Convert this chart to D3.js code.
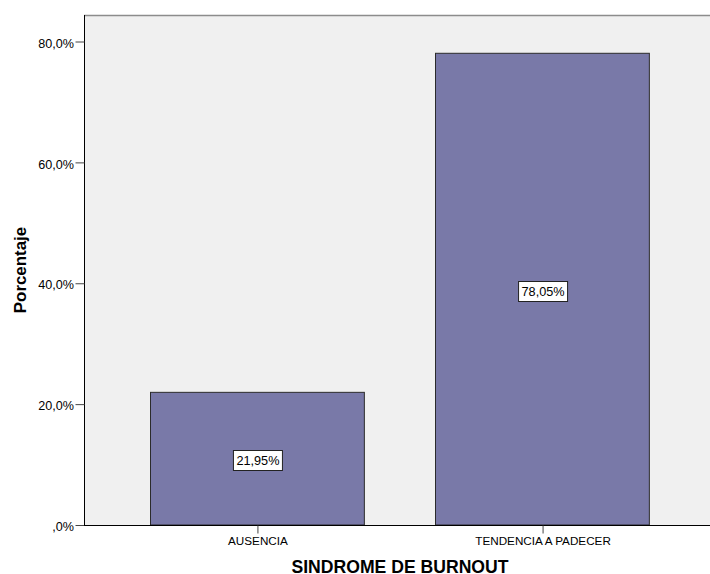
<!DOCTYPE html>
<html>
<head>
<meta charset="utf-8">
<script src="https://cdn.jsdelivr.net/npm/d3@7"></script>
<style>
  body { margin: 0; background: #fff; }
  svg { display: block; font-family: "Liberation Sans", Arial, sans-serif; }
</style>
</head>
<body>
<svg id="chart" width="710" height="574"></svg>
<script>
// Síndrome de burnout: porcentaje por categoría
const categories = ["AUSENCIA", "TENDENCIA A PADECER"];
const percentages = [21.95, 78.05];
const yTicks = [0, 20, 40, 60, 80];

const svg = d3.select("#chart");
const plot = { left: 84, right: 717, top: 15, bottom: 525 };

const x = d3.scaleBand()
  .domain(categories)
  .range([plot.left, plot.right])
  .paddingInner(0.25)
  .paddingOuter(0.235);

const y = d3.scaleLinear()
  .domain([0, 80])
  .range([plot.bottom, 41.5]);

const fmtTick = v => (v === 0 ? ",0%" : d3.format(".1f")(v).replace(".", ",") + "%");
const fmtVal = v => d3.format(".2f")(v).replace(".", ",") + "%";

// plot background
svg.append("rect")
  .attr("x", plot.left).attr("y", plot.top)
  .attr("width", plot.right - plot.left).attr("height", plot.bottom - plot.top)
  .attr("fill", "#f0f0f0");

// top frame line
svg.append("line")
  .attr("x1", plot.left).attr("x2", plot.right)
  .attr("y1", plot.top + 0.5).attr("y2", plot.top + 0.5)
  .attr("stroke", "#8c8c8c").attr("stroke-width", 1.5);

// bars
svg.selectAll("rect.bar")
  .data(categories)
  .join("rect")
  .attr("class", "bar")
  .attr("x", d => Math.round(x(d)) - 0.5)
  .attr("y", (d, i) => y(percentages[i]))
  .attr("width", x.bandwidth())
  .attr("height", (d, i) => y(0) - y(percentages[i]))
  .attr("fill", "#7979a8")
  .attr("stroke", "#2b2b2b")
  .attr("stroke-width", 1);

// y axis
const yAxis = svg.append("g")
  .attr("transform", `translate(${plot.left + 0.5},0)`)
  .call(d3.axisLeft(y).tickValues(yTicks).tickFormat(fmtTick).tickSize(9).tickPadding(1.5));
yAxis.select(".domain").attr("d", `M0,${plot.top}V${plot.bottom}`).attr("stroke", "#000");
yAxis.selectAll(".tick line").attr("stroke", "#444");
yAxis.selectAll(".tick text").attr("font-size", "12.6px").attr("fill", "#000").attr("dy", "0.45em")
  .attr("font-family", "Liberation Sans, Arial, sans-serif");

// x axis
const xAxis = svg.append("g")
  .attr("transform", `translate(0,${plot.bottom + 0.5})`)
  .call(d3.axisBottom(x).tickSize(8).tickPadding(3.5));
xAxis.select(".domain").attr("d", `M${plot.left},0H${plot.right}`).attr("stroke", "#000");
xAxis.selectAll(".tick line").attr("stroke", "#444");
xAxis.selectAll(".tick text").attr("font-size", "11.7px").attr("fill", "#000")
  .attr("font-family", "Liberation Sans, Arial, sans-serif");

// value labels
const labels = svg.selectAll("g.vlabel")
  .data(categories)
  .join("g")
  .attr("class", "vlabel")
  .attr("transform", (d, i) => {
    const cy = Math.round((y(percentages[i]) + y(0)) / 2 + 1.5);
    return `translate(${x(d) + x.bandwidth() / 2},${cy})`;
  });
labels.append("text")
  .attr("text-anchor", "middle")
  .attr("dy", "0.36em")
  .attr("font-size", "12.7px")
  .attr("fill", "#000")
  .text((d, i) => fmtVal(percentages[i]));
labels.each(function () {
  const g = d3.select(this);
  const bb = g.select("text").node().getBBox();
  g.insert("rect", "text")
    .attr("x", Math.round(bb.x - 3) + 0.5)
    .attr("y", -10 + 0.5)
    .attr("width", Math.round(bb.width + 6))
    .attr("height", 20)
    .attr("fill", "#fff")
    .attr("stroke", "#222")
    .attr("stroke-width", 1);
});

// axis titles
svg.append("text")
  .attr("x", 400)
  .attr("y", 572.5)
  .attr("text-anchor", "middle")
  .attr("font-size", "17.6px")
  .attr("font-weight", "bold")
  .text("SINDROME DE BURNOUT");

svg.append("text")
  .attr("transform", "translate(25.5,270) rotate(-90)")
  .attr("text-anchor", "middle")
  .attr("font-size", "16.9px")
  .attr("font-weight", "bold")
  .text("Porcentaje");
</script>
</body>
</html>
